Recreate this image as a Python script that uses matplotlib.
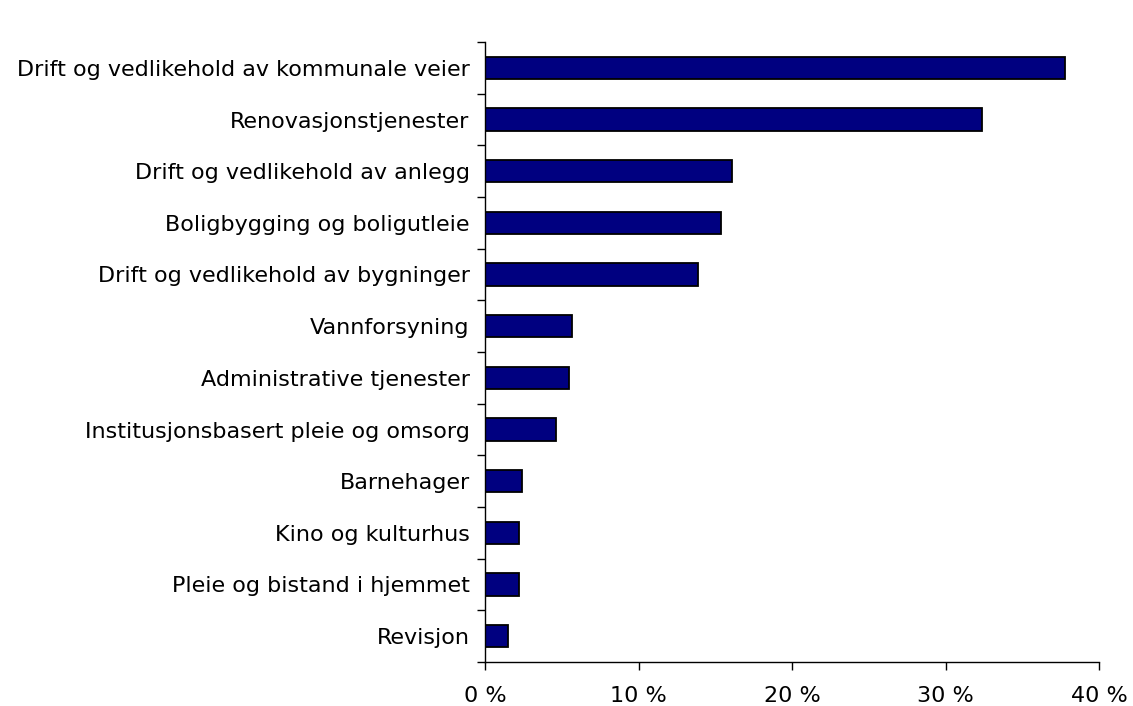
import matplotlib.pyplot as plt
import numpy as np

categories = [
    "Drift og vedlikehold av kommunale veier",
    "Renovasjonstjenester",
    "Drift og vedlikehold av anlegg",
    "Boligbygging og boligutleie",
    "Drift og vedlikehold av bygninger",
    "Vannforsyning",
    "Administrative tjenester",
    "Institusjonsbasert pleie og omsorg",
    "Barnehager",
    "Kino og kulturhus",
    "Pleie og bistand i hjemmet",
    "Revisjon",
]
values = [37.8, 32.4, 16.1, 15.4, 13.9, 5.7, 5.5, 4.6, 2.4, 2.2, 2.2, 1.5]
xticks = [0, 10, 20, 30, 40]
xtick_labels = ["0 %", "10 %", "20 %", "30 %", "40 %"]

fig = plt.figure(figsize=(11.33, 7.06), dpi=100)
ax = fig.add_axes([485 / 1133, 1 - 662 / 706, (1099 - 485) / 1133, 620 / 706])

y = np.arange(len(categories))
ax.barh(y, values, height=0.43, color="#000080", edgecolor="black", linewidth=1.3)

ax.set_xlim(0, 40)
ax.set_ylim(len(categories) - 0.5, -0.5)

ax.set_xticks(xticks)
ax.set_xticklabels(xtick_labels, fontsize=16)
ax.set_yticks(y)
ax.set_yticklabels(categories, fontsize=16)
ax.set_yticks(np.arange(len(categories) + 1) - 0.5, minor=True)

ax.tick_params(axis="y", which="major", length=0, pad=11)
ax.tick_params(axis="y", which="minor", length=6, width=1, direction="out")
ax.tick_params(axis="x", length=6, width=1, direction="out", pad=11)

for side in ["top", "right"]:
    ax.spines[side].set_visible(False)
for side in ["left", "bottom"]:
    ax.spines[side].set_linewidth(1)

fig.savefig("out.png", dpi=100)
